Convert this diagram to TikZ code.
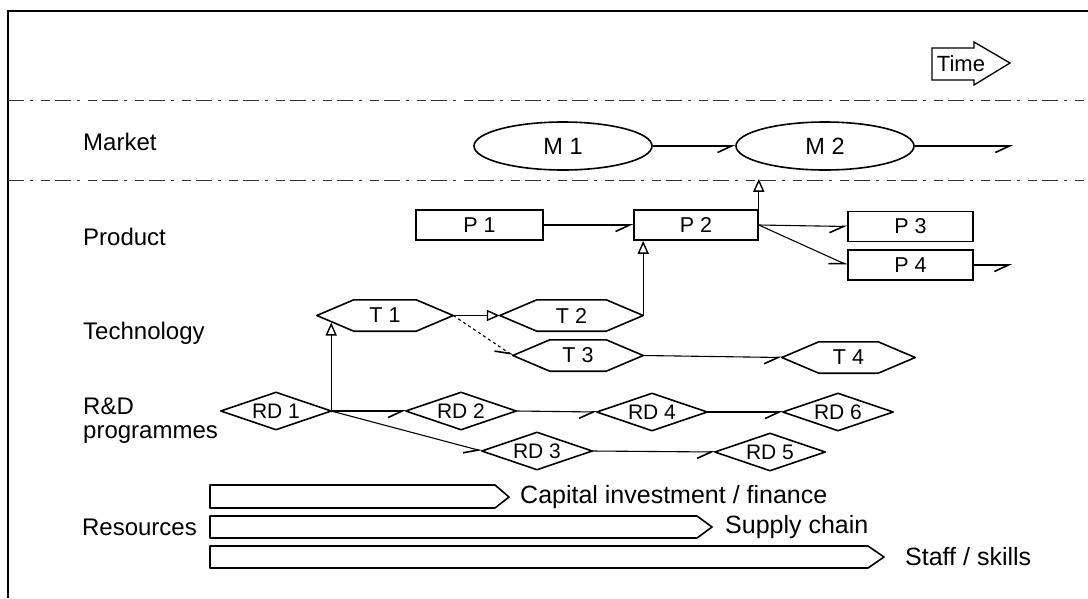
\documentclass[tikz,border=0pt]{standalone}
\usepackage{fontspec}
\setmainfont{Liberation Sans}
\usetikzlibrary{arrows.meta,shapes.geometric,calc}
\newcommand\hexdraw[1]{\draw[shapeline] (#1.west) -- ($(#1.north west)+(37,0)$) -- ($(#1.north east)+(-37,0)$) -- (#1.east) -- ($(#1.south east)+(-37,0)$) -- ($(#1.south west)+(37,0)$) -- cycle;}
\newcommand\diadraw[1]{\draw[shapeline] (#1.west) -- (#1.north) -- (#1.east) -- (#1.south) -- cycle;}
\begin{document}
\begin{tikzpicture}[x=1pt,y=-1pt,
  shapeline/.style={line width=1.6pt,line join=round},
  lab/.style={anchor=west,inner sep=0,font=\fontsize{24}{24}\selectfont,align=left},
  rlab/.style={anchor=west,inner sep=0,font=\fontsize{25}{26}\selectfont},
  ell/.style={ellipse,draw,line width=1.6pt,minimum width=178pt,minimum height=48pt,inner sep=0,font=\fontsize{23.5}{24}\selectfont},
  prod/.style={rectangle,draw,line width=1.6pt,minimum width=125pt,minimum height=30pt,inner sep=0,font=\fontsize{21.5}{24}\selectfont},
  hexn/.style={rectangle,minimum height=31pt,inner sep=0,font=\fontsize{21.5}{24}\selectfont},
  dian/.style={rectangle,minimum width=110pt,minimum height=37pt,inner sep=0,font=\fontsize{21}{24}\selectfont},
  conn/.style={line width=1.1pt},
  hp/.style={conn,-{Straight Barb[right,length=14pt,width=13pt,line width=1.6pt]}},
  tri/.style={conn,-{Triangle[open,length=13pt,width=11pt,line width=1.4pt]}},
  sep/.style={line width=0.8pt,black!80,dash pattern=on 16pt off 6pt on 3pt off 8pt on 9pt off 5pt}
]
\useasboundingbox (0,0) rectangle (1088,598);
% frame
\draw[line width=1.6pt] (8,598) -- (8,11) -- (1088,11);
% separators
\draw[sep] (8,100) -- (1088,100);
\draw[sep] (8,180) -- (1088,180);
% time arrow
\node[inner sep=0,font=\fontsize{22}{24}\selectfont] (time) at (961,64) {Time};
\draw[line width=1.3pt,line join=miter] (932,48) -- (974,48) -- (974,42) -- (1010,63) -- (974,85) -- (974,80) -- (932,80) -- cycle;
% row labels
\node[lab] (lmarket) at (83,142) {Market};
\node[lab] (lproduct) at (83,237) {Product};
\node[lab] (ltech) at (83,333) {Technology};
\node[lab] (lrd) at (83,421) {R\&D\\programmes};
\node[lab,anchor=east] (lres) at (197,527) {Resources};
% market
\node[ell] (M1) at (563,146) {M 1};
\node[ell] (M2) at (825,146) {M 2};
\coordinate (mout) at (1013,146);
% products
\node[prod,minimum width=127pt] (P1) at (479.5,225) {P 1};
\node[prod,minimum width=124pt] (P2) at (696,225) {P 2};
\node[prod] (P3) at (910.5,226.5) {P 3};
\node[prod] (P4) at (910.5,265) {P 4};
\coordinate (pout) at (1012,265);
% technology
\node[hexn,minimum width=136pt] (T1) at (385,315.5) {T 1};
\node[hexn,minimum width=143pt] (T2) at (571.5,315.5) {T 2};
\node[hexn,minimum width=130pt] (T3) at (578,355.5) {T 3};
\node[hexn,minimum width=133pt] (T4) at (848.5,357.5) {T 4};
\hexdraw{T1}\hexdraw{T2}\hexdraw{T3}\hexdraw{T4}
% R&D
\node[dian] (RD1) at (276,411) {RD 1};
\node[dian] (RD2) at (461,411) {RD 2};
\node[dian] (RD3) at (537,451) {RD 3};
\node[dian] (RD4) at (652,412) {RD 4};
\node[dian] (RD5) at (770,452) {RD 5};
\node[dian] (RD6) at (838,412) {RD 6};
\diadraw{RD1}\diadraw{RD2}\diadraw{RD3}\diadraw{RD4}\diadraw{RD5}\diadraw{RD6}
% connectors
\draw[hp] (M1.east) -- (M2.west);
\draw[hp] (M2.east) -- (mout);
\draw[hp] (P1.east) -- (P2.west);
\draw[tri,shorten >=8pt] (P2.north east) -- (P2.north east |- M2.south);
\draw[hp] (P2.east) -- (P3.west);
\draw[hp] (P2.east) -- (P4.west);
\draw[hp] (P4.east) -- (pout);
\draw[tri] (T2.east) -- (T2.east |- P2.south);
\draw[tri,shorten >=7pt] (RD1.east) -- (RD1.east |- T1.west);
\draw[tri] (T1.east) -- (T2.west);
\draw[hp,dashed] (T1.east) -- (T3.west);
\draw[hp] (T3.east) -- (T4.west);
\draw[hp] (RD1.east) -- (RD2.west);
\draw[hp] (RD1.east) -- (RD3.west);
\draw[hp] (RD2.east) -- (RD4.west);
\draw[hp] (RD4.east) -- (RD6.west);
\draw[hp] (RD3.east) -- (RD5.west);
% resources
\draw[shapeline] (210,485) -- (495,485) -- (509,497) -- (495,508) -- (210,508) -- cycle;
\draw[shapeline] (210,516) -- (697,516) -- (712,527) -- (697,538) -- (210,538) -- cycle;
\draw[shapeline] (210,546) -- (868,546) -- (884,557) -- (868,568) -- (210,568) -- cycle;
\node[rlab] (r1) at (520,497) {Capital investment / finance};
\node[rlab] (r2) at (725,527) {Supply chain};
\node[rlab] (r3) at (905,557) {Staff / skills};
\end{tikzpicture}
\end{document}
